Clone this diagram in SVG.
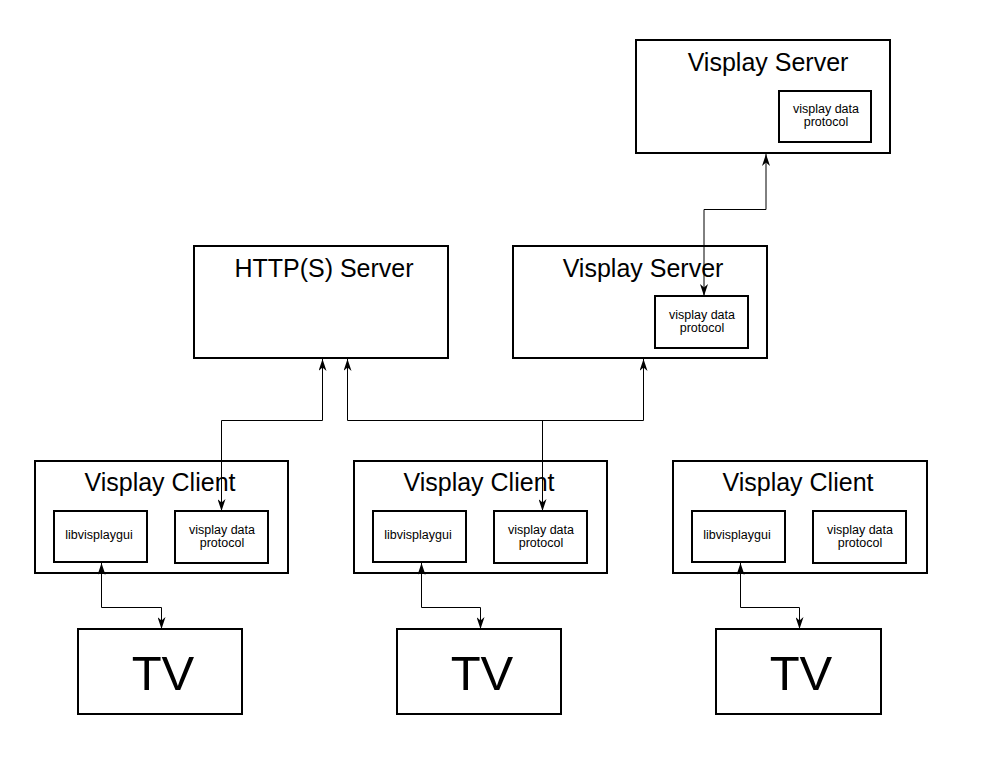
<svg xmlns="http://www.w3.org/2000/svg" width="990" height="765" viewBox="0 0 990 765">
<style>
.box{fill:#fff;stroke:#000;stroke-width:2}
.t{font-family:"Liberation Sans",Arial,sans-serif;fill:#000;text-anchor:middle}
.title{font-size:25px}
.small{font-size:12.5px}
.tv{font-size:49px}
.conn{fill:none;stroke:#000;stroke-width:1}
</style>
<defs>
<marker id="arr" viewBox="0 0 12 8" refX="12" refY="4" markerWidth="12" markerHeight="8" markerUnits="userSpaceOnUse" orient="auto-start-reverse">
<path d="M0,0 L12,4 L0,8 L3.5,4 Z" fill="#000"/>
</marker>
</defs>
<rect width="990" height="765" fill="#fff"/>

<g id="server-top">
<rect class="box" x="636" y="40" width="254" height="113"/>
<text class="t title" x="768" y="71">Visplay Server</text>
<rect class="box" x="779" y="91" width="92" height="51"/>
<text class="t small" x="826" y="113">visplay data</text>
<text class="t small" x="826" y="126">protocol</text>
</g>

<g id="http-server">
<rect class="box" x="194" y="246" width="254" height="112"/>
<text class="t title" x="324" y="277">HTTP(S) Server</text>
</g>

<g id="server-mid">
<rect class="box" x="513" y="246" width="254" height="112"/>
<text class="t title" x="643" y="277">Visplay Server</text>
<rect class="box" x="655" y="296" width="93" height="52"/>
<text class="t small" x="702" y="319">visplay data</text>
<text class="t small" x="702" y="332">protocol</text>
</g>

<g id="client1">
<rect class="box" x="35" y="461" width="253" height="112"/>
<text class="t title" x="160" y="491">Visplay Client</text>
<rect class="box" x="54" y="511" width="93" height="51"/>
<text class="t small" x="99" y="539">libvisplaygui</text>
<rect class="box" x="175" y="511" width="93" height="52"/>
<text class="t small" x="222" y="534">visplay data</text>
<text class="t small" x="222" y="547">protocol</text>
</g>

<g id="client2">
<rect class="box" x="354" y="461" width="253" height="112"/>
<text class="t title" x="479" y="491">Visplay Client</text>
<rect class="box" x="373" y="511" width="93" height="51"/>
<text class="t small" x="418" y="539">libvisplaygui</text>
<rect class="box" x="494" y="511" width="93" height="52"/>
<text class="t small" x="541" y="534">visplay data</text>
<text class="t small" x="541" y="547">protocol</text>
</g>

<g id="client3">
<rect class="box" x="673" y="461" width="254" height="112"/>
<text class="t title" x="798" y="491">Visplay Client</text>
<rect class="box" x="692" y="511" width="93" height="51"/>
<text class="t small" x="737" y="539">libvisplaygui</text>
<rect class="box" x="813" y="511" width="93" height="52"/>
<text class="t small" x="860" y="534">visplay data</text>
<text class="t small" x="860" y="547">protocol</text>
</g>

<g id="tv1">
<rect class="box" x="78" y="629" width="164" height="85"/>
<text class="t tv" x="163" y="690">TV</text>
</g>
<g id="tv2">
<rect class="box" x="397" y="629" width="164" height="85"/>
<text class="t tv" x="482" y="690">TV</text>
</g>
<g id="tv3">
<rect class="box" x="716" y="629" width="165" height="85"/>
<text class="t tv" x="801" y="690">TV</text>
</g>

<g id="connectors">
<path class="conn" d="M704,296 V209.5 H766 V154" marker-start="url(#arr)" marker-end="url(#arr)"/>
<path class="conn" d="M322.5,359 V420.5 H221.5 V511" marker-start="url(#arr)" marker-end="url(#arr)"/>
<path class="conn" d="M347.5,359 V420.5 H643.5 V359" marker-start="url(#arr)" marker-end="url(#arr)"/>
<path class="conn" d="M542.5,420.5 V511" marker-end="url(#arr)"/>
<path class="conn" d="M101.5,563 V607.5 H161.5 V629" marker-start="url(#arr)" marker-end="url(#arr)"/>
<path class="conn" d="M421.5,563 V607.5 H480.5 V629" marker-start="url(#arr)" marker-end="url(#arr)"/>
<path class="conn" d="M740.5,563 V607.5 H799.5 V629" marker-start="url(#arr)" marker-end="url(#arr)"/>
</g>
</svg>
